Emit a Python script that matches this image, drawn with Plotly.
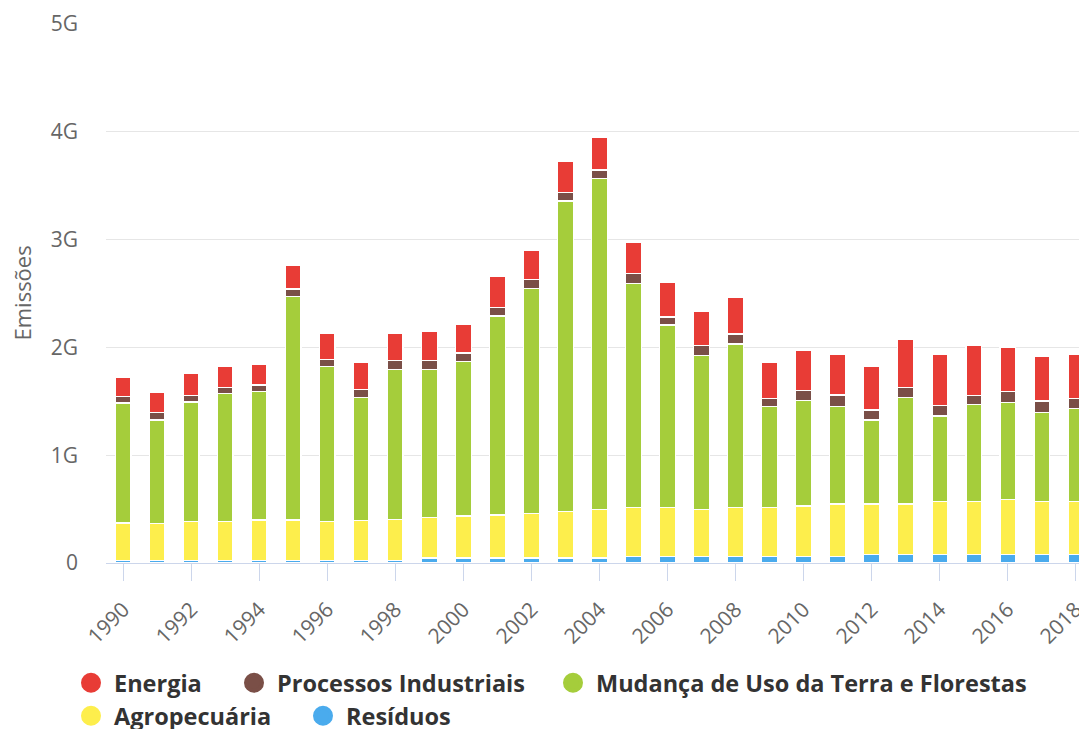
import plotly.graph_objects as go

# emissions by sector, in billions of tonnes (G)
years = list(range(1990, 2019))

energia = [0.182, 0.186, 0.204, 0.197, 0.195, 0.223, 0.241, 0.254, 0.254, 0.269,
           0.267, 0.290, 0.265, 0.288, 0.303, 0.293, 0.324, 0.324, 0.341, 0.337,
           0.372, 0.374, 0.408, 0.445, 0.473, 0.470, 0.417, 0.411, 0.412]
processos = [0.059, 0.067, 0.062, 0.056, 0.062, 0.071, 0.069, 0.074, 0.080, 0.080,
             0.079, 0.081, 0.087, 0.077, 0.077, 0.092, 0.072, 0.089, 0.092, 0.078,
             0.092, 0.108, 0.092, 0.093, 0.099, 0.080, 0.102, 0.105, 0.089]
mudanca = [1.113, 0.959, 1.111, 1.191, 1.190, 2.071, 1.438, 1.145, 1.392, 1.373,
           1.435, 1.846, 2.084, 2.882, 3.071, 2.078, 1.691, 1.429, 1.515, 0.933,
           0.977, 0.903, 0.780, 0.990, 0.795, 0.903, 0.896, 0.829, 0.866]
agro = [0.346, 0.343, 0.358, 0.358, 0.374, 0.374, 0.358, 0.367, 0.380, 0.379,
        0.391, 0.400, 0.416, 0.431, 0.453, 0.457, 0.457, 0.438, 0.457, 0.457,
        0.469, 0.487, 0.470, 0.470, 0.492, 0.492, 0.514, 0.492, 0.492]
residuos = [0.025, 0.025, 0.025, 0.025, 0.025, 0.025, 0.025, 0.025, 0.025, 0.045,
            0.045, 0.045, 0.045, 0.045, 0.045, 0.060, 0.060, 0.060, 0.060, 0.060,
            0.060, 0.060, 0.077, 0.077, 0.077, 0.077, 0.077, 0.077, 0.077]

y_ticks = [0, 1, 2, 3, 4, 5]
y_tick_text = ["0", "1G", "2G", "3G", "4G", "5G"]
x_ticks = list(range(1990, 2019, 2))

# stack order bottom -> top
stack = [
    ("Resíduos", residuos, "#4aabed"),
    ("Agropecuária", agro, "#fdee4c"),
    ("Mudança de Uso da Terra e Florestas", mudanca, "#a5cd3b"),
    ("Processos Industriais", processos, "#7a4f47"),
    ("Energia", energia, "#e83c36"),
]

# the page body adds an 8px offset, so figure coords = screen coords - 8
OFF = 8
# legend entries: name -> (legend id, marker centre x, row centre y) in screen px
legend_pos = {
    "Energia": ("legend", 91, 683),
    "Processos Industriais": ("legend2", 254, 683),
    "Mudança de Uso da Terra e Florestas": ("legend3", 573, 683),
    "Agropecuária": ("legend4", 91, 716),
    "Resíduos": ("legend5", 323, 716),
}

W, H = 1087, 729
LEFT = 106 - OFF
fig = go.Figure()

for name, vals, color in stack:
    fig.add_trace(go.Bar(
        x=years, y=vals, name=name, width=0.46,
        marker=dict(color=color, line=dict(color="white", width=1.5)),
        showlegend=False, legendgroup=name,
    ))

legend_font = dict(family="Open Sans", size=23.5, color="#333333", weight="bold")
layout_legends = {}
for name, vals, color in stack:
    lid, mx, my = legend_pos[name]
    fig.add_trace(go.Scatter(
        x=[None], y=[None], mode="markers", name=name, legendgroup=name,
        marker=dict(symbol="circle", size=16, color=color,
                    line=dict(color=color, width=4)),
        legend=lid, hoverinfo="skip",
    ))
    layout_legends[lid] = dict(
        xref="container", yref="container",
        x=(mx - OFF - 23) / W, y=1 - (my - OFF) / H,
        xanchor="left", yanchor="middle",
        orientation="h", itemwidth=36,
        font=legend_font, bgcolor="rgba(0,0,0,0)",
    )

fig.update_layout(
    width=W, height=H,
    barmode="stack",
    plot_bgcolor="white", paper_bgcolor="white",
    margin=dict(l=LEFT, r=0, t=24 - OFF, b=H - (563 - OFF), autoexpand=False),
    font=dict(family="Open Sans", color="#666666"),
    **layout_legends,
)

# y axis title, placed by hand since standoff is ignored without automargin
fig.add_annotation(
    text="Emissões", textangle=-90, showarrow=False,
    xref="paper", yref="paper", x=0, y=0.5,
    xanchor="center", yanchor="middle", xshift=(21 - OFF) - LEFT,
    font=dict(size=22, color="#666666"),
)

fig.update_xaxes(
    range=[1989.49, 2018.57],
    tickmode="array", tickvals=x_ticks,
    tickangle=-45, tickfont=dict(size=21, color="#666666"),
    ticklabelstandoff=8,
    ticks="outside", ticklen=17, tickcolor="#ccd6eb", tickwidth=1,
    showline=True, linecolor="#ccd6eb", linewidth=1,
    showgrid=False, zeroline=False,
)
fig.update_yaxes(
    range=[0, 5],
    tickmode="array", tickvals=y_ticks, ticktext=y_tick_text,
    tickfont=dict(size=21, color="#666666"),
    ticklabelstandoff=27,
    showgrid=True, gridcolor="#e6e6e6", gridwidth=1,
    zeroline=False, showline=False,
)

fig.write_html("out.html")
